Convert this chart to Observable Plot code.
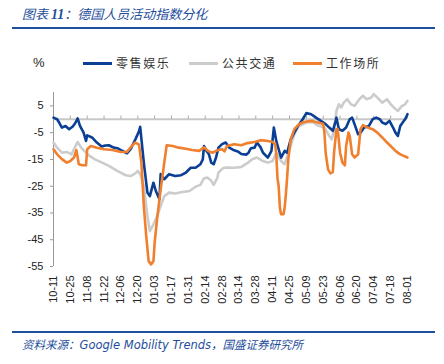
<!DOCTYPE html>
<html><head><meta charset="utf-8">
<script src="https://cdn.jsdelivr.net/npm/d3@7"></script>
<script src="https://cdn.jsdelivr.net/npm/@observablehq/plot@0.6"></script>
<style>
body{margin:0;width:444px;height:364px;position:relative;background:#fff;overflow:hidden;font-family:"Noto Sans CJK SC",sans-serif}
.title{position:absolute;left:22px;top:5px;font-size:13px;line-height:18px;color:#1f4e9c;font-style:italic;white-space:nowrap}
.title b{font-family:"Liberation Serif",serif;font-size:14px}
.rule{position:absolute;left:12px;width:423px;height:2px;background:#1f4e9c}
.pct{position:absolute;left:33px;top:54px;font:13px "Liberation Sans",Arial,sans-serif;color:#222;line-height:18px}
.item{position:absolute;top:54px;height:18px;display:flex;align-items:center;white-space:nowrap}
.sw{width:29px;height:3px;margin-right:4px}
.lab{font-size:12px;letter-spacing:1.6px;color:#333;line-height:18px}
.foot{position:absolute;left:22px;top:337px;font-size:11.5px;line-height:16px;color:#1f4e9c;font-style:italic;white-space:nowrap;font-family:"DejaVu Sans","Noto Sans CJK SC",sans-serif}
#chart{position:absolute;left:0;top:80px}
</style></head>
<body>
<div class="title">图表 <b>11</b>：德国人员活动指数分化</div>
<div class="rule" style="top:27px"></div>
<div class="pct">%</div>
<div id="legend"></div>
<div id="chart"></div>
<div class="rule" style="top:331px"></div>
<div class="foot">资料来源：Google Mobility Trends，国盛证券研究所</div>
<script>
// series names and colours
const seriesNames = ["零售娱乐", "公共交通", "工作场所"];
const seriesColors = ["#0b3f94", "#cccccc", "#f07f2e"];

// x tick labels (every 14 days, 2020-10-11 .. 2021-08-01)
const tickLabels = ["10-11","10-25","11-08","11-22","12-06","12-20","01-03","01-17","01-31","02-14","02-28","03-14","03-28","04-11","04-25","05-09","05-23","06-06","06-20","07-04","07-18","08-01"];
const yTicks = [5, -5, -15, -25, -35, -45, -55];

// retail & recreation (days since 2020-10-11)
const retailDays = [0,3,5,7,10,13,16,18,20,22,25,27,28,32,36,40,43,46,50,53,56,61,64,68,71,72,75,78,80,83,85,88,89,92,96,101,106,110,114,118,122,124,125,127,129,131,133,135,137,140,143,146,150,153,156,160,162,164,167,169,172,174,178,181,183,185,187,189,192,194,197,200,203,207,210,214,218,222,226,229,232,234,235,237,240,243,246,248,250,253,255,258,262,265,268,271,273,276,279,282,284,286,288,290,292,294];
const retailVals = [0.6,0,-1.5,-3.1,-2.5,-3.7,-2.7,-1.5,0.3,-2.5,-5,-8.1,-6,-6.8,-8.7,-10.2,-9.8,-9.7,-10.6,-10.8,-11.5,-12.7,-11.2,-7.5,-4.5,-2.8,-16.2,-27.4,-28.7,-23.7,-26.8,-29.9,-20.5,-22.4,-20.5,-21.2,-20.9,-19.9,-18.1,-18.1,-16.8,-15,-10,-11.8,-13,-16.2,-16.8,-14.3,-10.6,-9.3,-8.7,-10.6,-11.6,-12,-13,-13.2,-12.5,-10.8,-10.6,-8.7,-10.5,-12.5,-14.3,-11.8,-3.1,-8.1,-11.2,-14.3,-11.8,-12.5,-7.5,-5,-2.5,0,2.3,1.9,0.6,-0.6,-1.8,-3.1,-4.3,-1.2,0.6,-3.7,-4.3,-3.1,0,0.6,-1.8,-5.6,-5,-3.1,-2.5,0,0.6,0,-1.2,-1.8,-0.6,-3.1,-5,-6.2,-2.5,-1.2,0,1.9];

// public transport
const transitDays = [0,3,7,11,15,17,20,23,27,30,34,39,46,53,60,64,68,70,72,75,78,80,83,86,89,92,96,101,107,113,118,122,125,128,131,133,136,137,140,142,144,150,156,161,165,169,174,178,182,185,189,192,196,200,204,210,215,219,225,229,231,233,235,237,239,241,244,247,250,254,257,260,264,266,269,273,277,280,284,286,289,292,294];
const transitVals = [-8.7,-10.6,-12.5,-12.2,-13.1,-11.2,-8.5,-10.6,-12.5,-13.7,-14.9,-15.9,-17.4,-19.3,-20.9,-21.2,-20.2,-19.3,-20.5,-24.9,-36.2,-41.8,-39.3,-36.2,-32.4,-28.7,-27.4,-27.7,-27.2,-26.8,-25.2,-24.5,-22,-21.8,-23,-24.5,-22,-19.9,-18.5,-18.1,-18,-18.1,-17.8,-16.4,-14.9,-14.3,-15.6,-16.2,-15.6,-12.5,-15.6,-16.8,-11.2,-5.6,-2.5,-1.2,-1,-2.2,-3.1,-6.2,-7.5,-4.3,3.1,5.6,4.4,6.2,7.5,5.6,5,7.5,8.8,7.5,8.1,9.4,8.1,6.2,7.5,5.6,3.8,3.1,4.8,5.6,6.9];

// workplaces
const workDays = [0,3,7,11,14,17,19,21,24,27,28,31,36,42,49,56,61,65,68,71,73,75,77,79,81,83,84,86,89,92,94,99,104,110,115,121,125,129,132,136,140,142,144,150,156,161,167,172,178,182,184,185,186,187,188,189,191,192,193,194,195,197,200,204,208,214,218,222,224,225,226,228,230,232,233,235,236,238,240,242,243,245,246,248,250,253,255,257,261,265,269,273,277,280,284,288,294];
const workVals = [-11.2,-13.1,-14.9,-16.2,-15.6,-14.3,-11.5,-16.8,-17.2,-17.2,-11.2,-10,-10.6,-11.2,-11.5,-12.2,-12.2,-10,-8.7,-9.5,-16.2,-32.4,-43.6,-53,-54.2,-53,-46.1,-37.4,-26.2,-16.2,-9.7,-10,-10.6,-11,-11.5,-11.8,-10.5,-12,-12.5,-11.6,-11.2,-12,-10,-9.3,-9.7,-8.9,-8.5,-7.8,-8.1,-8.5,-9,-13,-22,-25,-33,-35.5,-35.5,-33,-28,-22,-15,-7.5,-3.7,-1.8,-1,-0.6,-1,-1.5,-1.8,-5,-12.5,-18.7,-20.2,-19.7,-12.5,-3.7,-3.7,-12.5,-16.2,-17.2,-10,-5,-6.2,-13.1,-14.3,-13.1,-3.7,-2.2,-3.1,-3.7,-5,-6.8,-8.7,-10,-11.8,-13.1,-14.3];

const start = Date.UTC(2020, 9, 11);
const toDate = d => new Date(start + d * 864e5);
const tickDates = tickLabels.map(s => {
  const [m, d] = s.split("-").map(Number);
  return new Date(Date.UTC(m >= 10 ? 2020 : 2021, m - 1, d));
});
const mk = (days, vals) => days.map((d, i) => ({date: toDate(d), value: vals[i]}));
const retail = mk(retailDays, retailVals);
const transit = mk(transitDays, transitVals);
const work = mk(workDays, workVals);

// legend
const legend = document.getElementById("legend");
const lefts = [83, 189, 293];
seriesNames.forEach((n, i) => {
  const it = document.createElement("div");
  it.className = "item";
  it.style.left = lefts[i] + "px";
  it.innerHTML = `<div class="sw" style="background:${seriesColors[i]}"></div><span class="lab">${n}</span>`;
  legend.appendChild(it);
});

const chart = Plot.plot({
  width: 444, height: 230,
  marginLeft: 53, marginRight: 37, marginTop: 12, marginBottom: 44,
  style: {fontFamily: "'Liberation Sans', Arial, sans-serif", fontSize: "11px", background: "#fff", color: "#222"},
  x: {type: "utc", domain: [toDate(0), toDate(294)], label: null},
  y: {domain: [-55, 10], label: null},
  marks: [
    Plot.ruleY([0], {stroke: "#c8c8c8", strokeWidth: 1.8}),
    Plot.ruleX(tickDates, {y1: 0, y2: 1.2, stroke: "#aaaaaa"}),
    Plot.ruleX([toDate(0)], {stroke: "#999999"}),
    Plot.axisY({ticks: yTicks, tickSize: 3, tickPadding: 7, stroke: "#999999", fill: "#222", tickFormat: d => String(d), label: null}),
    Plot.axisX({ticks: tickDates, tickFormat: d3.utcFormat("%m-%d"), tickRotate: -90, tickSize: 0, tickPadding: 9, fill: "#222", label: null}),
    Plot.lineY(transit, {x: "date", y: "value", stroke: seriesColors[1], strokeWidth: 2.6}),
    Plot.lineY(retail, {x: "date", y: "value", stroke: seriesColors[0], strokeWidth: 2.6}),
    Plot.lineY(work, {x: "date", y: "value", stroke: seriesColors[2], strokeWidth: 2.6})
  ]
});
document.getElementById("chart").appendChild(chart);
</script>
</body></html>
